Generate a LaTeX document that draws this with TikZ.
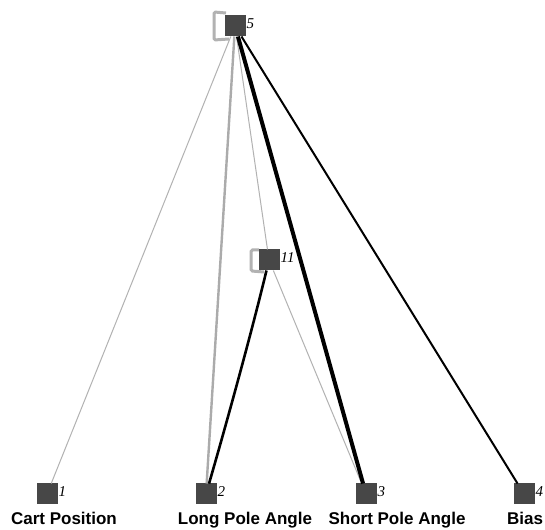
\documentclass[tikz,border=0pt]{standalone}
\usepackage{fontspec}
\setmainfont{Liberation Sans}
\newfontfamily\numfont{Liberation Serif}
\begin{document}
\begin{tikzpicture}[x=1pt,y=1pt,
  neuron/.style={draw=none,fill=black!72,minimum size=21pt,inner sep=0pt,outer sep=0pt},
  numlab/.style={anchor=west,inner sep=1pt,font=\numfont\itshape\fontsize{15}{15}\selectfont,yshift=2pt},
  inlab/.style={anchor=base,inner sep=0pt,font=\bfseries\fontsize{17}{17}\selectfont},
  thingrey/.style={draw=black!30,line width=1pt},
  grey/.style={draw=black!33,line width=2.4pt},
  looped/.style={draw=black!30,line width=3pt,rounded corners=1.5pt},
  strong/.style={draw=black,line width=4pt},
  medium/.style={draw=black,line width=2pt},
  mediumb/.style={draw=black,line width=2.6pt}]
\useasboundingbox (0,0) rectangle (545,529);
\fill[white] (0,0) rectangle (545,529);
% loops (drawn first)
\coordinate (l5a) at (226,516);
\coordinate (l5b) at (229,490);
\coordinate (l11a) at (259,279);
\coordinate (l11b) at (264,257);
\draw[looped] (l5a) -- (214,517) -- (214,489) -- (l5b);
\draw[looped] (l11a) -- (251,279) -- (251,258) -- (l11b);
% nodes
\node[neuron] (n5) at (235,503) {};
\node[neuron] (n11) at (269,269) {};
\node[neuron] (n1) at (47,35) {};
\node[neuron] (n2) at (206,35) {};
\node[neuron] (n3) at (366,35) {};
\node[neuron] (n4) at (524,35) {};
% edges
\draw[thingrey] (n5) -- (n1);
\draw[grey] (n5) -- (n2);
\draw[thingrey] (n5) -- (n11);
\draw[thingrey] (n11) -- (n3);
\draw[mediumb] (n11) .. controls (250,190) and (222,90) .. (n2);
\draw[strong] (n5) -- (n3);
\draw[medium] (n5) -- (n4);
% number labels
\node[numlab] (t5) at (n5.east) {5};
\node[numlab] (t11) at (n11.east) {11};
\node[numlab] (t1) at (n1.east) {1};
\node[numlab] (t2) at (n2.east) {2};
\node[numlab] (t3) at (n3.east) {3};
\node[numlab] (t4) at (n4.east) {4};
% input labels
\node[inlab] (c1) at (64,5) {Cart Position};
\node[inlab] (c2) at (245,5) {Long Pole Angle};
\node[inlab] (c3) at (397,5) {Short Pole Angle};
\node[inlab] (c4) at (525,5) {Bias};
\end{tikzpicture}
\end{document}
